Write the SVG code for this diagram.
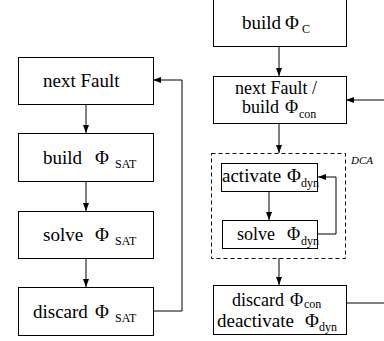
<svg xmlns="http://www.w3.org/2000/svg" width="384" height="341" viewBox="0 0 384 341">
<defs>
<marker id="ah" viewBox="0 0 8 6" refX="8" refY="3" markerWidth="8" markerHeight="6" markerUnits="userSpaceOnUse" orient="auto">
<path d="M0,0 L8,3 L0,6 Z" fill="#000"/>
</marker>
</defs>
<style>
.box{fill:#fff;stroke:#000;stroke-width:1}
.dash{fill:none;stroke:#000;stroke-width:1;stroke-dasharray:4,3}
.t{font-family:"Liberation Serif","Times New Roman",serif;font-size:19px;fill:#000}
.m{font-family:"Liberation Serif","Times New Roman",serif;font-size:18px;fill:#000}
.s{font-family:"Liberation Serif","Times New Roman",serif;font-size:12px;fill:#000}
.c{stroke:#000;stroke-width:1;fill:none;marker-end:url(#ah)}
.l{stroke:#000;stroke-width:1;fill:none}
</style>
<g id="connectors">
<line class="c" x1="86" y1="104" x2="86" y2="133"/>
<line class="c" x1="86" y1="181" x2="86" y2="211"/>
<line class="c" x1="86" y1="258" x2="86" y2="287"/>
<polyline class="c" points="153,311 182,311 182,80 153,80"/>
<line class="c" x1="279" y1="47" x2="279" y2="76"/>
<line class="c" x1="384" y1="100" x2="346" y2="100"/>
<line class="c" x1="279" y1="124" x2="279" y2="153"/>
<line class="c" x1="269" y1="191" x2="269" y2="220"/>
<polyline class="c" points="318,234 336,234 336,177 318,177"/>
<line class="c" x1="279" y1="258" x2="279" y2="285"/>
<line class="l" x1="346" y1="303" x2="384" y2="303"/>
</g>
<g id="next-fault">
<rect class="box" x="18.5" y="57.5" width="135" height="47"/>
<text class="t" x="43" y="87">next Fault</text>
</g>
<g id="build-sat">
<rect class="box" x="18.5" y="133.5" width="135" height="48"/>
<text class="t" x="43" y="164">build  <tspan x="95">Φ</tspan></text>
<text class="s" x="115" y="168">SAT</text>
</g>
<g id="solve-sat">
<rect class="box" x="18.5" y="211.5" width="135" height="47"/>
<text class="t" x="43" y="241">solve <tspan x="95">Φ</tspan></text>
<text class="s" x="115" y="245">SAT</text>
</g>
<g id="discard-sat">
<rect class="box" x="18.5" y="287.5" width="135" height="48"/>
<text class="t" x="33" y="318">discard <tspan x="95">Φ</tspan></text>
<text class="s" x="115" y="322">SAT</text>
</g>
<g id="build-c">
<rect class="box" x="213.5" y="-0.5" width="133" height="47"/>
<text class="t" x="242" y="29">build  <tspan x="285">Φ</tspan></text>
<text class="s" x="302" y="33">C</text>
</g>
<g id="next-fault-con">
<rect class="box" x="213.5" y="76.5" width="133" height="47"/>
<text class="m" x="276" y="94" text-anchor="middle">next Fault /</text>
<text class="m" x="242" y="113">build <tspan x="285">Φ</tspan></text>
<text class="s" x="299" y="118">con</text>
</g>
<g id="dca">
<rect class="dash" x="211.5" y="153.5" width="134" height="105"/>
<text x="351" y="164" style="font-family:'Liberation Serif',serif;font-style:italic;font-size:11px">DCA</text>
</g>
<g id="activate-dyn">
<rect class="box" x="221.5" y="163.5" width="96" height="28"/>
<text class="m" x="222" y="182" style="font-size:19px">activate<tspan x="287">Φ</tspan></text>
<text class="s" x="301" y="187">dyn</text>
</g>
<g id="solve-dyn">
<rect class="box" x="222.5" y="220.5" width="95" height="28"/>
<text class="m" x="237" y="240">solve  <tspan x="287">Φ</tspan></text>
<text class="s" x="301" y="245">dyn</text>
</g>
<g id="discard-con">
<rect class="box" x="213.5" y="285.5" width="133" height="49"/>
<text class="m" x="232" y="306">discard  <tspan x="290">Φ</tspan></text>
<text class="s" x="304" y="308">con</text>
<text class="m" x="217" y="327" style="font-size:19px">deactivate  <tspan x="305">Φ</tspan></text>
<text class="s" x="319" y="331">dyn</text>
</g>
</svg>
